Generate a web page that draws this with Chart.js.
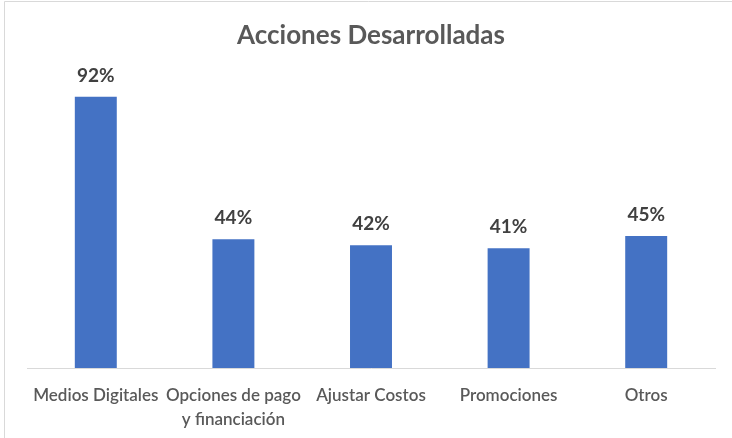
<!DOCTYPE html>
<html>
<head>
<meta charset="utf-8">
<script src="https://cdn.jsdelivr.net/npm/chart.js@4"></script>
<style>
  html, body { margin: 0; padding: 0; background: #fff; }
  canvas { display: block; }
</style>
</head>
<body>
<canvas id="c" width="732" height="438"></canvas>
<script>
// categories and values
const categories = ["Medios Digitales", ["Opciones de pago", "y financiación"], "Ajustar Costos", "Promociones", "Otros"];
const values = [0.92, 0.437, 0.416, 0.406, 0.448];
const chartTitle = "Acciones Desarrolladas";

// frame: thin grey line on top and left, like the pasted picture
const framePlugin = {
  id: 'frame',
  beforeDraw(chart) {
    const ctx = chart.ctx;
    ctx.save();
    ctx.fillStyle = '#fff';
    ctx.fillRect(0, 0, chart.width, chart.height);
    ctx.strokeStyle = '#d9d9d9';
    ctx.lineWidth = 1;
    ctx.beginPath();
    ctx.moveTo(4.5, chart.height);
    ctx.lineTo(4.5, 1.5);
    ctx.lineTo(chart.width, 1.5);
    ctx.stroke();
    ctx.restore();
  }
};

// percent labels above the bars
const valueLabels = {
  id: 'valueLabels',
  afterDatasetsDraw(chart) {
    const ctx = chart.ctx;
    const meta = chart.getDatasetMeta(0);
    ctx.save();
    ctx.font = 'bold 19px Lato';
    ctx.fillStyle = '#404040';
    ctx.textAlign = 'center';
    ctx.textBaseline = 'middle';
    meta.data.forEach(function (bar, i) {
      ctx.fillText(Math.round(values[i] * 100) + '%', bar.x, bar.y - 21);
    });
    ctx.restore();
  }
};

new Chart(document.getElementById('c'), {
  type: 'bar',
  data: {
    labels: categories,
    datasets: [{
      data: values,
      backgroundColor: '#4472C4',
      borderWidth: 0,
      categoryPercentage: 1,
      barPercentage: 0.305
    }]
  },
  options: {
    responsive: false,
    animation: false,
    layout: { padding: { left: 27, right: 17, top: 0, bottom: 0 } },
    plugins: {
      legend: { display: false },
      tooltip: { enabled: false },
      title: {
        display: true,
        text: chartTitle,
        color: '#595959',
        font: { family: 'Lato', size: 26, weight: 'bold', lineHeight: 1.2 },
        padding: { top: 20, bottom: 22 }
      }
    },
    scales: {
      x: {
        grid: { display: false, drawTicks: false },
        border: { display: true, color: '#d9d9d9', width: 1 },
        ticks: {
          color: '#595959',
          padding: 15,
          maxRotation: 0,
          autoSkip: false,
          font: { family: 'Lato', size: 17, weight: '600', lineHeight: 1.42 }
        },
        afterFit(scale) { scale.height = 70; }
      },
      y: {
        display: false,
        min: 0,
        max: 1
      }
    }
  },
  plugins: [framePlugin, valueLabels]
});
</script>
</body>
</html>
